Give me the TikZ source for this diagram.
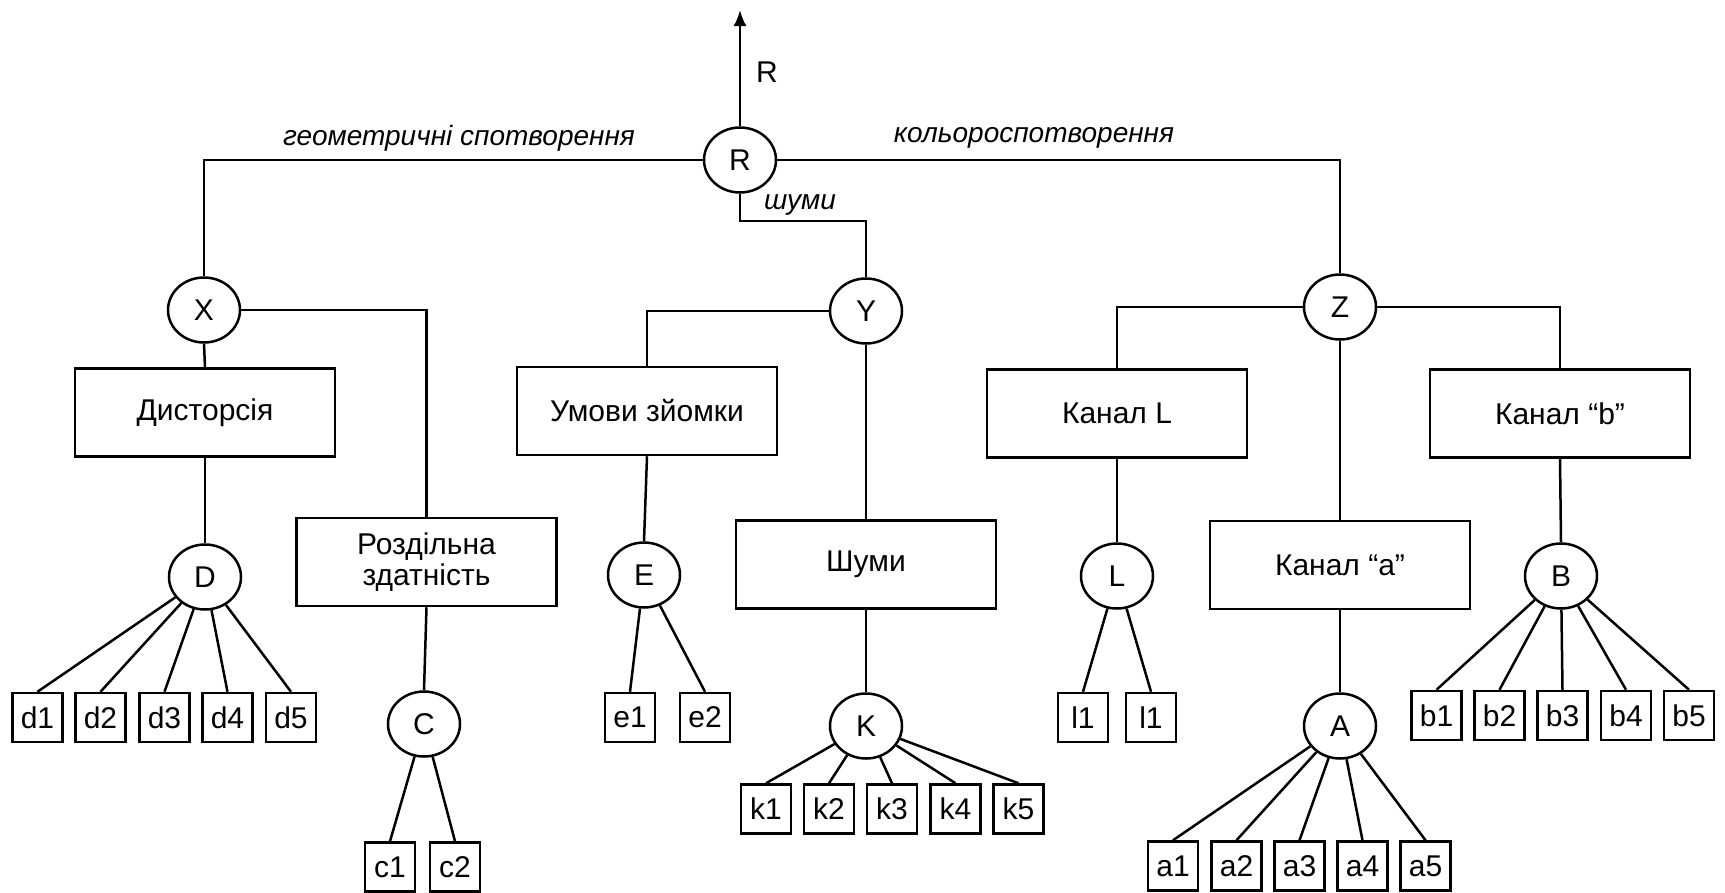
\documentclass[tikz,border=0pt]{standalone}
\usepackage{fontspec}
\setmainfont{Liberation Sans}
\usetikzlibrary{shapes.geometric,arrows.meta}
\begin{document}
\begin{tikzpicture}[x=1pt,y=-1pt,line width=2.5pt,
  every node/.style={font=\fontsize{30}{31}\selectfont, inner sep=0pt},
  circ/.style={draw, ellipse, minimum width=72pt, minimum height=65pt},
  bigbox/.style={draw, rectangle, minimum width=260pt, minimum height=88pt, align=center},
  leaf/.style={draw, rectangle, minimum width=50pt, minimum height=49pt},
  lbl/.style={font=\fontsize{28}{30}\selectfont\itshape},
  arr/.style={-{Latex[length=16pt,width=13pt]}},
  ]
\useasboundingbox (0,0) rectangle (1725,892);

% circles
\node[circ] (R) at (740,160) {R};
\node[circ] (X) at (204,310) {X};
\node[circ] (Y) at (866,311) {Y};
\node[circ] (Z) at (1340,307) {Z};
\node[circ] (D) at (205,577) {D};
\node[circ] (C) at (424,724) {C};
\node[circ] (E) at (644,575) {E};
\node[circ] (K) at (866,726) {K};
\node[circ] (L) at (1117,576) {L};
\node[circ] (A) at (1340,726) {A};
\node[circ] (B) at (1561,576) {B};

% big boxes
\node[bigbox] (dist) at (205,412.5) {Дисторсія};
\node[bigbox] (rozd) at (426.5,562) {Роздільна\\здатність};
\node[bigbox] (umov) at (647,411) {Умови зйомки};
\node[bigbox] (shum) at (866,564.5) {Шуми};
\node[bigbox] (kL) at (1117,413.5) {Канал L};
\node[bigbox] (ka) at (1340,565) {Канал “a”};
\node[bigbox] (kb) at (1560,413.5) {Канал “b”};

% leaves
\foreach \n/\x in {1/37.5,2/100.5,3/164.5,4/227.5,5/291}
  \node[leaf] (d\n) at (\x,717.5) {d\n};
\foreach \n/\x in {1/390,2/455}
  \node[leaf] (c\n) at (\x,867) {c\n};
\foreach \n/\x in {1/630,2/705}
  \node[leaf] (e\n) at (\x,717.5) {e\n};
\foreach \n/\x in {1/766,2/829,3/892,4/955.5,5/1018.5}
  \node[leaf] (k\n) at (\x,809) {k\n};
\node[leaf] (l1) at (1083,717.5) {l1};
\node[leaf] (l2) at (1151,717.5) {l1};
\foreach \n/\x in {1/1173,2/1236.5,3/1299.5,4/1362.5,5/1425.5}
  \node[leaf] (a\n) at (\x,866) {a\n};
\foreach \n/\x in {1/1436.5,2/1499.5,3/1562.5,4/1626,5/1689}
  \node[leaf] (b\n) at (\x,715.5) {b\n};

% labels
\node[lbl] (lg) at (459,138) {геометричні спотворення};
\node[lbl] (lc) at (1034,138) {кольороспотворення};
\node[lbl] (ls) at (800,205) {шуми};
\node (lr) at (767,72) {R};

% output arrow
\coordinate (top) at (740,10);
\draw[arr] (R.north) -- (top);

% main connectors
\draw (R.west) -| (X.north);
\draw (R.east) -| (Z.north);
\draw (R.south) -- ++(0,27) -| (Y.north);

\draw (X.south) -- (dist.north);
\draw (X.east) -| (rozd.north);
\draw (Y.west) -| (umov.north);
\draw (Y.south) -- (shum.north);
\draw (Z.west) -| (kL.north);
\draw (Z.east) -| (kb.north);
\draw (Z.south) -- (ka.north);

\draw (dist.south) -- (D.north);
\draw (rozd.south) -- (C.north);
\draw (umov.south) -- (E.north);
\draw (shum.south) -- (K.north);
\draw (kL.south) -- (L.north);
\draw (ka.south) -- (A.north);
\draw (kb.south) -- (B.north);

% leaf connectors
\foreach \n in {1,...,5} {
  \draw (D) -- (d\n.north);
  \draw (K) -- (k\n.north);
  \draw (A) -- (a\n.north);
  \draw (B) -- (b\n.north);
}
\foreach \n in {1,2} {
  \draw (C) -- (c\n.north);
  \draw (E) -- (e\n.north);
  \draw (L) -- (l\n.north);
}
\end{tikzpicture}
\end{document}
